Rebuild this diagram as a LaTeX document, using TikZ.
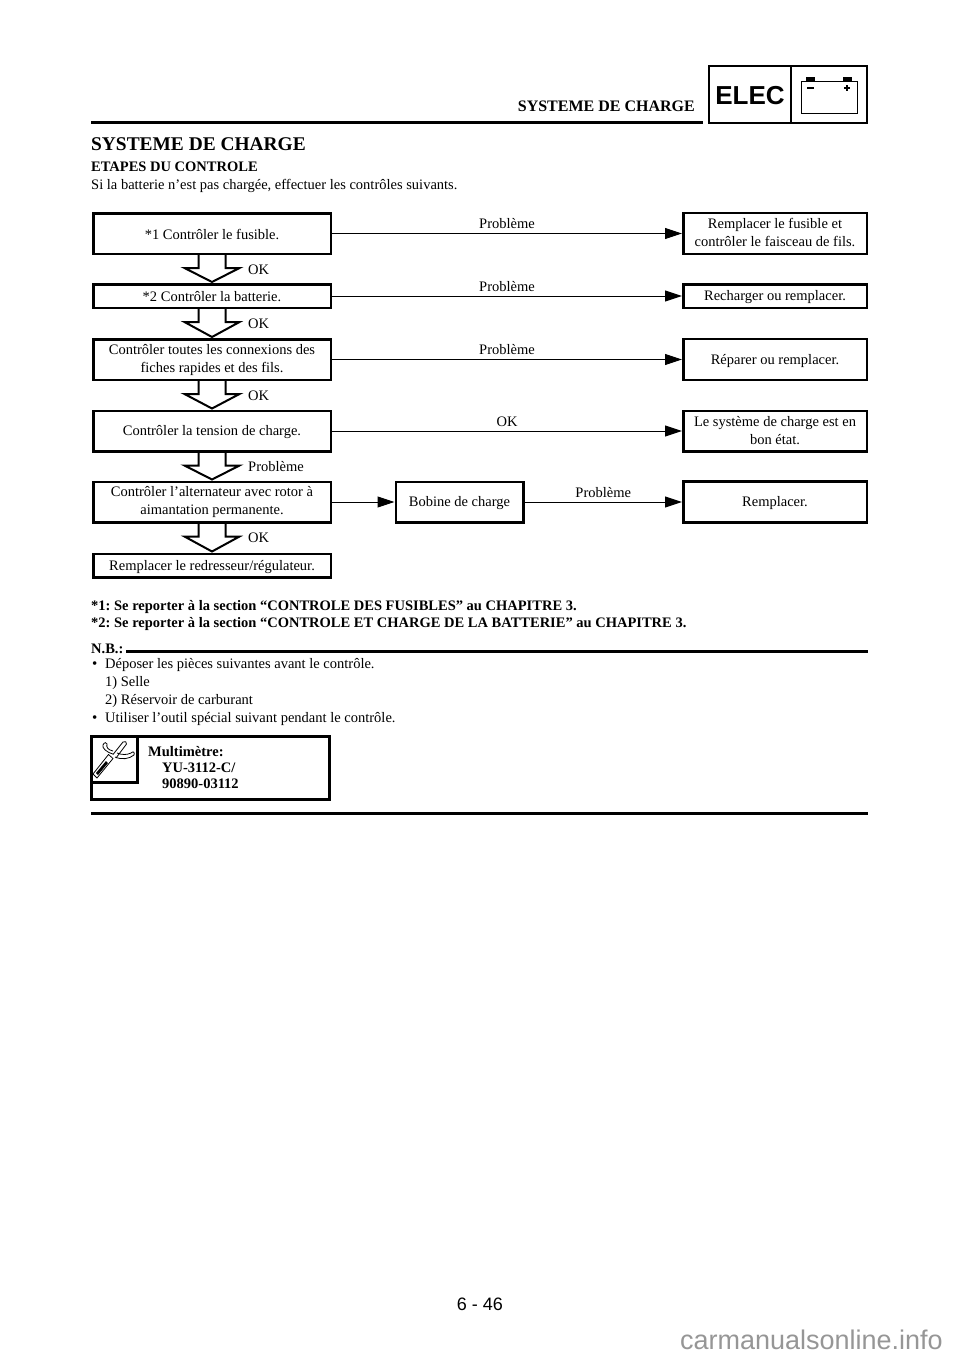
\documentclass[tikz,border=0pt]{standalone}
\usepackage{fontspec}
\setmainfont{Liberation Serif}
\setsansfont{Liberation Sans}
\usetikzlibrary{arrows.meta, calc}
\definecolor{webgray}{RGB}{150, 150, 150}
\frenchspacing

% hollow block arrow between two boxes, with its label on the right
\newcommand{\hollowdown}[3]{%
  \draw[hollow] ($(#1.south)+(-13.5,0)$) -- ++(0,13) -- ++(-14,0) -- ($(#2.north)+(0,-1)$)
    -- ($(#1.south)+(27.5,13)$) -- ++(-14,0) -- ($(#1.south)+(13.5,0)$);
  \node[body, anchor=west] (#1lab) at ($(#1.south)+(36,14.5)$) {#3};
}

\begin{document}
\begin{tikzpicture}[x=1pt, y=-1pt,
    body/.style={font=\fontsize{14.5}{18}\selectfont, inner sep=0pt},
    bodybold/.style={body, font=\fontsize{14.5}{18}\selectfont\bfseries},
    stepbox/.style={draw, line width=2.5pt, fill=white, align=center, inner sep=0pt,
      font=\fontsize{14.5}{18}\selectfont,
      execute at begin node={\rule{0pt}{13pt}}, execute at end node={\rule[-2pt]{0pt}{2pt}}},
    chk/.style={stepbox, minimum width=237.5pt},
    fix/.style={stepbox, minimum width=183.5pt},
    flow/.style={-{Triangle[length=17pt, width=11pt]}, line width=1pt},
    hollow/.style={line width=2pt, line join=miter},
    rule/.style={line width=3pt}]

    \useasboundingbox (0,0) rectangle (960,1358);

    % Header
    \node[stepbox, minimum width=82pt, minimum height=57pt] (elec) at (750,94.5) {};
    \node[stepbox, minimum width=76pt, minimum height=57pt] (batt) at (829,94.5) {};
    \node[font=\fontsize{26}{30}\selectfont\sffamily\bfseries, inner sep=0pt] (electxt) at (750,96) {ELEC};
    \draw[line width=1pt] (801,81) rectangle (857,113);
    \fill (806,77) rectangle (815,81);
    \fill (843,77) rectangle (852,81);
    \draw[line width=1.2pt] (807,88) -- (814,88);
    \draw[line width=1.2pt] (844,88) -- (850,88) (847,85) -- (847,91);
    \node[bodybold, font=\fontsize{16}{18}\selectfont\bfseries, anchor=base east] (head) at (695,111) {SYSTEME DE CHARGE};
    \draw[rule] (91,122.6) -- (703,122.6);

    % Title
    \node[bodybold, font=\fontsize{19.4}{24}\selectfont\bfseries, anchor=base west] (title) at (91,150) {SYSTEME DE CHARGE};
    \node[bodybold, anchor=base west] (etapes) at (91,171) {ETAPES DU CONTROLE};
    \node[body, anchor=base west] (intro) at (91,189) {Si la batterie n’est pas chargée, effectuer les contrôles suivants.};

    % Checks
    \node[chk, minimum height=40.5pt] (chk1) at (212,233.5) {*1 Contrôler le fusible.};
    \node[chk, minimum height=23.5pt] (chk2) at (212,296) {*2 Contrôler la batterie.};
    \node[chk, minimum height=40.5pt] (chk3) at (212,359.5) {Contrôler toutes les connexions des\\fiches rapides et des fils.};
    \node[chk, minimum height=40.5pt] (chk4) at (212,431) {Contrôler la tension de charge.};
    \node[chk, minimum height=40.5pt] (chk5) at (212,502) {Contrôler l’alternateur avec rotor à\\aimantation permanente.};
    \node[chk, minimum height=23.5pt] (chk6) at (212,565.5) {Remplacer le redresseur/régulateur.};

    % Remedies
    \node[fix, minimum height=41pt] (fix1) at (775,233.5) {Remplacer le fusible et\\contrôler le faisceau de fils.};
    \node[fix, minimum height=23.5pt] (fix2) at (775,296) {Recharger ou remplacer.};
    \node[fix, minimum height=41pt] (fix3) at (775,359.5) {Réparer ou remplacer.};
    \node[fix, minimum height=40.5pt] (fix4) at (775,431) {Le système de charge est en\\bon état.};
    \node[fix, minimum height=41pt] (fix5) at (775,502) {Remplacer.};
    \node[stepbox, minimum width=127.5pt, minimum height=40.5pt] (coil) at (459.5,502) {Bobine de charge};

    % Hollow arrows
    \hollowdown{chk1}{chk2}{OK}
    \hollowdown{chk2}{chk3}{OK}
    \hollowdown{chk3}{chk4}{OK}
    \hollowdown{chk4}{chk5}{Problème}
    \hollowdown{chk5}{chk6}{OK}

    % Transitions
    \draw[flow] (chk1) -- node[body, above=4pt] (lab1) {Problème} (fix1);
    \draw[flow] (chk2) -- node[body, above=4pt] (lab2) {Problème} (fix2);
    \draw[flow] (chk3) -- node[body, above=4pt] (lab3) {Problème} (fix3);
    \draw[flow] (chk4) -- node[body, above=4pt] (lab4) {OK} (fix4);
    \draw[flow] (chk5) -- (coil);
    \draw[flow] (coil) -- node[body, above=4pt] (lab5) {Problème} (fix5);

    % Notes
    \node[bodybold, anchor=base west] (note1) at (91,610) {*1: Se reporter à la section “CONTROLE DES FUSIBLES” au CHAPITRE 3.};
    \node[bodybold, anchor=base west] (note2) at (91,627) {*2: Se reporter à la section “CONTROLE ET CHARGE DE LA BATTERIE” au CHAPITRE 3.};
    \node[bodybold, anchor=base west] (nb) at (91,653) {N.B.:};
    \draw[rule] (126,651) -- (868,651);
    \node[body, font=\fontsize{15}{15}\selectfont, anchor=base west] (bul1) at (92,668) {•};
    \node[body, anchor=base west] (txt1) at (105,668) {Déposer les pièces suivantes avant le contrôle.};
    \node[body, anchor=base west] (txt2) at (105,686) {1) Selle};
    \node[body, anchor=base west] (txt3) at (105,704) {2) Réservoir de carburant};
    \node[body, font=\fontsize{15}{15}\selectfont, anchor=base west] (bul2) at (92,722) {•};
    \node[body, anchor=base west] (txt4) at (105,722) {Utiliser l’outil spécial suivant pendant le contrôle.};

    % Tool box
    \draw[rule] (91,736) rectangle (329,799);
    \draw[rule] (91,782) -- (137,782) -- (137,736);
    \draw[line width=.8pt, line join=round] (93,774) -- (97,778) -- (113,758.5) -- (108.5,754.5) -- cycle;
    \draw[line width=.8pt] (113,754.5) -- (123,742) .. controls (124.5,740.5) and (127.5,742) .. (126.5,744) -- (116,758);
    \draw[line width=.8pt] (113,754) .. controls (106,752) and (102,748) .. (103,745)
      .. controls (104,742) and (107,742) .. (107,744) .. controls (106,747) and (108,750) .. (113,751);
    \draw[line width=.8pt] (115,757) .. controls (122,760) and (129,759) .. (134,755)
      .. controls (135,752) and (133,751) .. (131,753) .. controls (127,755) and (122,755) .. (117,753);
    \fill (96,773) -- (98,775) -- (108,763) -- (106,761) -- cycle;
    \node[bodybold, anchor=base west] (tool) at (148,756) {Multimètre:};
    \node[bodybold, anchor=base west] (ref1) at (162,772) {YU-3112-C/};
    \node[bodybold, anchor=base west] (ref2) at (162,788) {90890-03112};
    \draw[rule] (91,813) -- (868,813);

    % Footer
    \node[font=\fontsize{18}{20}\selectfont\sffamily, inner sep=0pt] (page) at (480,1304) {6 - 46};
    \node[font=\fontsize{27}{29}\selectfont\sffamily, text=webgray, anchor=base east, inner sep=0pt] (web) at (943,1349.5) {carmanualsonline.info};
\end{tikzpicture}
\end{document}
